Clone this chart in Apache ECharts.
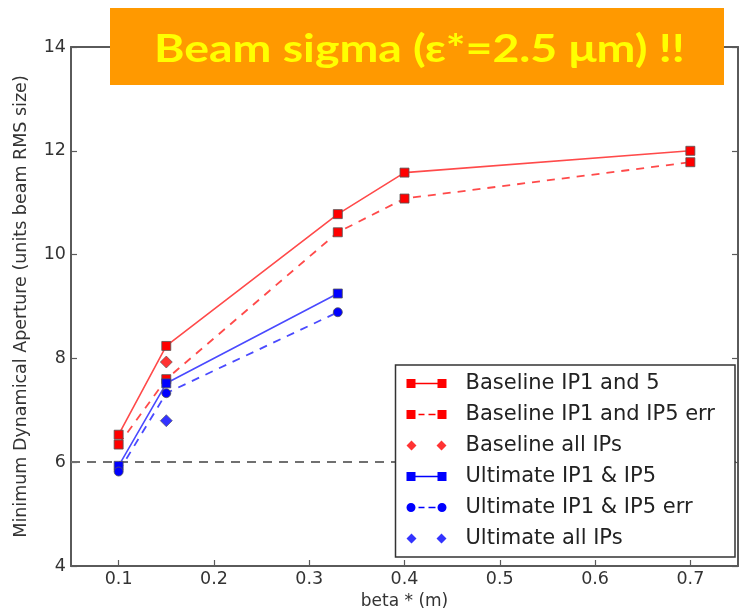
<!DOCTYPE html>
<html><head><meta charset="utf-8">
<script src="https://cdn.jsdelivr.net/npm/echarts@6/dist/echarts.min.js"></script>
<style>html,body{margin:0;padding:0;background:#fff}#c{width:743px;height:608px}</style>
</head><body><div id="c"></div>
<script>
const xTicks = [0.1, 0.2, 0.3, 0.4, 0.5, 0.6, 0.7];
const yTicks = [4, 6, 8, 10, 12, 14];
const betaBaseline = [0.1, 0.15, 0.33, 0.4, 0.7];
const baselineIP15 = [6.53, 8.24, 10.78, 11.58, 12.0];
const baselineIP15err = [6.34, 7.60, 10.43, 11.08, 11.78];
const betaAll = [0.15];
const baselineAllIPs = [7.93];
const betaUltimate = [0.1, 0.15, 0.33];
const ultimateIP15 = [5.93, 7.52, 9.25];
const ultimateIP15err = [5.82, 7.33, 8.89];
const ultimateAllIPs = [6.80];
const threshold = 6;
const names = ['Baseline IP1 and 5', 'Baseline IP1 and IP5 err', 'Baseline all IPs',
  'Ultimate IP1 & IP5', 'Ultimate IP1 & IP5 err', 'Ultimate all IPs'];
const titleText = 'Beam sigma (\u03b5*=2.5 \u03bcm) !!';

const pair = (xs, ys) => xs.map((x, i) => [x, ys[i]]);
const font = 'DejaVu Sans';

const iconSolidSq = 'path://M0,0.5h9v9h-9zM9,4.3h22v1.4h-22zM31,0.5h9v9h-9z';
const iconDashSq = 'path://M0,0.5h9v9h-9zM12,4.3h6v1.4h-6zM22,4.3h7v1.4h-7zM31,0.5h9v9h-9z';
const iconDiam = 'path://M0,5l5,-5l5,5l-5,5zM30,5l5,-5l5,5l-5,5z';
const iconDashCirc = 'path://M0,5a4.5,4.5 0 1,0 9,0a4.5,4.5 0 1,0 -9,0zM12,4.3h6v1.4h-6zM22,4.3h7v1.4h-7zM31,5a4.5,4.5 0 1,0 9,0a4.5,4.5 0 1,0 -9,0z';

const RED = '#ff0000', BLUE = '#0000ff';
const mk = (c) => ({ color: c, borderColor: '#555', borderWidth: 0.8 });
const AX = '#5a5a5a';
const axLine = { show: true, lineStyle: { color: AX, width: 2 } };

const chart = echarts.init(document.getElementById('c'), null, { renderer: 'canvas' });
chart.setOption({
  animation: false,
  backgroundColor: '#fff',
  grid: { left: 71, right: 5, top: 47, bottom: 42, show: false, containLabel: false, outerBoundsMode: 'none' },
  xAxis: [{
    type: 'value', min: 0.05, max: 0.75,
    name: 'beta * (m)', nameLocation: 'middle', nameGap: 23,
    nameTextStyle: { fontFamily: font, fontSize: 17, color: '#333' },
    axisLine: axLine,
    axisTick: { show: true, inside: true, length: 6, customValues: xTicks, lineStyle: { color: AX, width: 1.2 } },
    axisLabel: { customValues: xTicks, fontFamily: font, fontSize: 17.5, color: '#333', margin: 4,
      formatter: v => v.toFixed(1) },
    splitLine: { show: false }
  }, {
    type: 'value', min: 0.05, max: 0.75, position: 'top',
    axisLine: axLine,
    axisTick: { show: true, inside: true, length: 6, customValues: xTicks, lineStyle: { color: AX, width: 1.2 } },
    axisLabel: { show: false }, splitLine: { show: false }
  }],
  yAxis: [{
    type: 'value', min: 4, max: 14, interval: 2,
    name: 'Minimum Dynamical Aperture (units beam RMS size)', nameLocation: 'middle', nameGap: 41,
    nameTextStyle: { fontFamily: font, fontSize: 17.5, color: '#333' },
    axisLine: axLine,
    axisTick: { show: true, inside: true, length: 6, lineStyle: { color: AX, width: 1.2 } },
    axisLabel: { fontFamily: font, fontSize: 17.5, color: '#333', margin: 5 },
    splitLine: { show: false }
  }, {
    type: 'value', min: 4, max: 14, interval: 2, position: 'right',
    axisLine: axLine,
    axisTick: { show: true, inside: true, length: 6, lineStyle: { color: AX, width: 1.2 } },
    axisLabel: { show: false }, splitLine: { show: false }
  }],
  legend: {
    orient: 'vertical', right: 8, top: 365, z: 20,
    padding: [8, 20, 8, 11],
    backgroundColor: '#fff', borderColor: '#333', borderWidth: 1.5,
    itemWidth: 40, itemHeight: 10, itemGap: 10,
    itemStyle: { borderWidth: 0 },
    textStyle: { fontFamily: font, fontSize: 21, color: '#222', padding: [0, 0, 0, 14] },
    data: [
      { name: names[0], icon: iconSolidSq },
      { name: names[1], icon: iconDashSq },
      { name: names[2], icon: iconDiam },
      { name: names[3], icon: iconSolidSq },
      { name: names[4], icon: iconDashCirc },
      { name: names[5], icon: iconDiam }
    ]
  },
  series: [
    { name: names[0], type: 'line', data: pair(betaBaseline, baselineIP15),
      symbol: 'rect', symbolSize: 9, itemStyle: mk(RED),
      lineStyle: { color: '#ff4a4a', width: 1.6 }, z: 3,
      markLine: { silent: true, symbol: 'none', label: { show: false }, z: 1,
        lineStyle: { color: '#707070', width: 2, type: [9, 7] },
        data: [{ yAxis: threshold }] } },
    { name: names[1], type: 'line', data: pair(betaBaseline, baselineIP15err),
      symbol: 'rect', symbolSize: 9, itemStyle: mk(RED),
      lineStyle: { color: '#ff4a4a', width: 1.8, type: [8, 7] }, z: 3 },
    { name: names[2], type: 'scatter', data: pair(betaAll, baselineAllIPs),
      symbol: 'diamond', symbolSize: 12, itemStyle: mk(RED), z: 4 },
    { name: names[3], type: 'line', data: pair(betaUltimate, ultimateIP15),
      symbol: 'rect', symbolSize: 9, itemStyle: mk(BLUE),
      lineStyle: { color: '#4a4aff', width: 1.6 }, z: 3 },
    { name: names[4], type: 'line', data: pair(betaUltimate, ultimateIP15err),
      symbol: 'circle', symbolSize: 9, itemStyle: mk(BLUE),
      lineStyle: { color: '#4a4aff', width: 1.8, type: [8, 7] }, z: 3 },
    { name: names[5], type: 'scatter', data: pair(betaAll, ultimateAllIPs),
      symbol: 'diamond', symbolSize: 12, itemStyle: mk(BLUE), z: 4 }
  ],
  graphic: [
    { type: 'rect', left: 110, top: 8, shape: { width: 614, height: 77 },
      style: { fill: '#ff9900' }, z: 100 },
    { type: 'text', x: 154, y: 49, scaleX: 1.19, z: 101,
      style: { text: titleText, fill: '#ffff00', font: 'bold 39px Lato',
        align: 'left', verticalAlign: 'middle' } }
  ]
});
</script></body></html>
